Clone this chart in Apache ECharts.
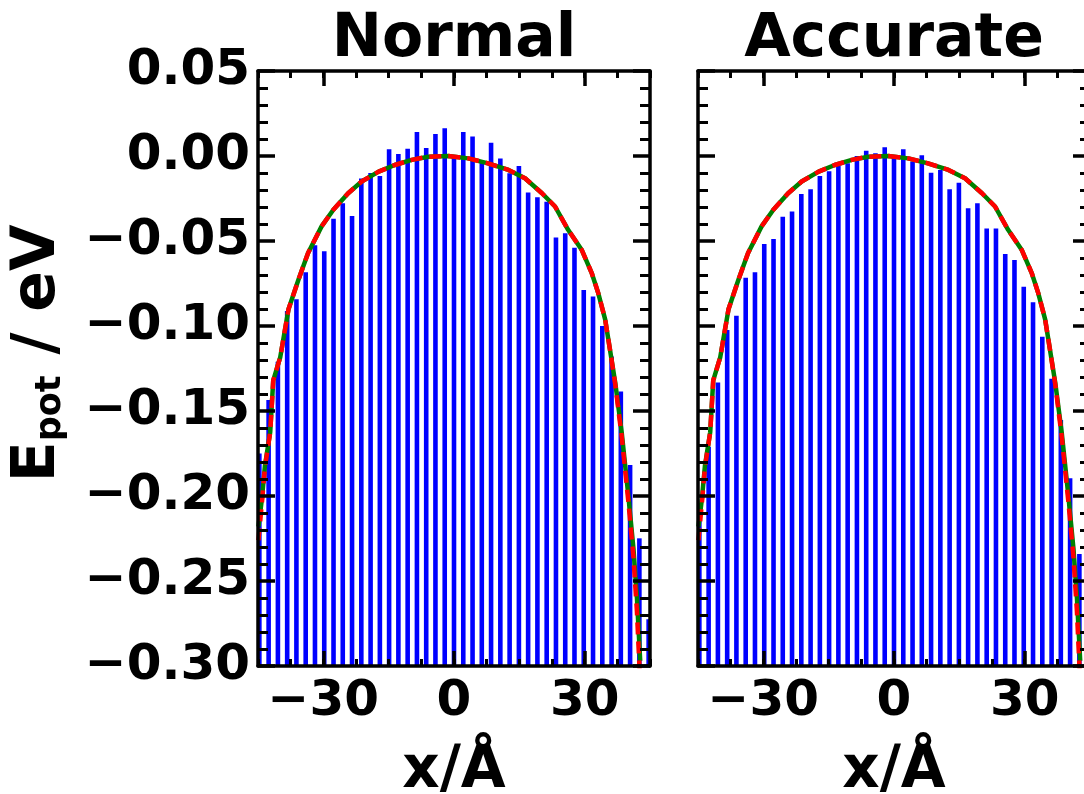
<!DOCTYPE html>
<html>
<head>
<meta charset="utf-8">
<script src="https://cdn.jsdelivr.net/npm/echarts@6/dist/echarts.min.js"></script>
<style>
  html, body { margin: 0; padding: 0; background: #ffffff; }
  #chart { width: 1084px; height: 794px; }
</style>
</head>
<body>
<div id="chart"></div>
<script>
// Atom positions along the chain (Å)
const atomX = [-44.69, -42.56, -40.43, -38.30, -36.18, -34.05, -31.92, -29.79, -27.66, -25.54,
  -23.41, -21.28, -19.15, -17.02, -14.90, -12.77, -10.64, -8.51, -6.38, -4.26, -2.13, 0.00,
  2.13, 4.26, 6.38, 8.51, 10.64, 12.77, 14.90, 17.02, 19.15, 21.28, 23.41, 25.54, 27.66,
  29.79, 31.92, 34.05, 36.18, 38.30, 40.43, 42.56, 44.69];

// Per-atom potential energy (eV), "Normal" precision
const normalEpot = [-0.1750, -0.1435, -0.1210, -0.0912, -0.0843, -0.0684, -0.0525, -0.0561,
  -0.0369, -0.0278, -0.0353, -0.0133, -0.0100, -0.0118, 0.0039, 0.0012, 0.0043, 0.0141,
  0.0047, 0.0129, 0.0163, -0.0005, 0.0141, 0.0114, -0.0024, 0.0078, -0.0014, -0.0102,
  -0.0059, -0.0214, -0.0243, -0.0269, -0.0480, -0.0455, -0.0540, -0.0788, -0.0827,
  -0.1000, -0.1180, -0.1386, -0.1818, -0.2249, -0.2725];

// Per-atom potential energy (eV), "Accurate" precision
const accurateEpot = [-0.2050, -0.1710, -0.1333, -0.1024, -0.0939, -0.0716, -0.0684, -0.0518,
  -0.0488, -0.0357, -0.0327, -0.0224, -0.0196, -0.0118, -0.0090, -0.0059, -0.0043, 0.0000,
  0.0031, 0.0016, 0.0051, 0.0006, 0.0039, -0.0033, 0.0004, -0.0098, -0.0082, -0.0196,
  -0.0157, -0.0308, -0.0278, -0.0427, -0.0427, -0.0576, -0.0612, -0.0769, -0.0861,
  -0.1063, -0.1310, -0.1553, -0.1896, -0.2341, -0.2800];

// Reference potential curve (green) and fitted curve (red, dashed)
const curveX = [-44.9, -44.1, -43.4, -42.2, -41.5, -39.9, -38.0, -35.7, -33.5, -30.4, -27.7,
  -24.3, -21.2, -17.3, -13.6, -9.7, -5.9, -1.3, 3.3, 7.8, 12.5, 16.3, 20.2, 23.2, 26.2,
  29.3, 31.6, 33.1, 34.7, 35.8, 37.0, 38.5, 40.1, 41.2, 42.0, 42.75];
const referenceEpot = [-0.2180, -0.2016, -0.1820, -0.1625, -0.1320, -0.1185, -0.0902, -0.0727,
  -0.0570, -0.0414, -0.0316, -0.0219, -0.0150, -0.0092, -0.0053, -0.0023, -0.0004, 0.0000,
  -0.0014, -0.0043, -0.0082, -0.0131, -0.0219, -0.0297, -0.0434, -0.0551, -0.0687,
  -0.0805, -0.0961, -0.1137, -0.1330, -0.1625, -0.2016, -0.2309, -0.2600, -0.2970];
const fitEpot = [-0.2260, -0.2040, -0.1830, -0.1625, -0.1320, -0.1185, -0.0902, -0.0727,
  -0.0570, -0.0414, -0.0316, -0.0219, -0.0150, -0.0092, -0.0053, -0.0023, -0.0004, 0.0000,
  -0.0014, -0.0043, -0.0082, -0.0131, -0.0219, -0.0297, -0.0434, -0.0551, -0.0687,
  -0.0805, -0.0961, -0.1137, -0.1340, -0.1650, -0.2050, -0.2360, -0.2680, -0.3100];

// Axis ranges and tick labels
const X_MIN = -45, X_MAX = 45, X_MINOR_STEP = 7.5;
const Y_MIN = -0.30, Y_MAX = 0.05, Y_STEP = 0.05;
const xTickValues = [-30, 0, 30];
const yTickValues = [-0.30, -0.25, -0.20, -0.15, -0.10, -0.05, 0.00, 0.05];
const panelTitles = ['Normal', 'Accurate'];
const panelEpot = [normalEpot, accurateEpot];

const FONT = 'DejaVu Sans';
const minus = s => s.replace('-', '\u2212');
const fmtX = v => minus(String(Math.round(v)));
const fmtY = v => minus((Math.abs(v) < 1e-9 ? 0 : v).toFixed(2));

const gridBoxes = [
  { left: 258, top: 71, width: 392, height: 595 },
  { left: 698, top: 71, width: 392, height: 595 }
];

const black = '#000000';
const xAxes = [], yAxes = [], series = [];

gridBoxes.forEach((g, gi) => {
  const base = { gridIndex: gi, type: 'value', min: X_MIN, max: X_MAX, interval: X_MINOR_STEP,
    splitLine: { show: false }, z: 10 };
  // bottom: spine, long ticks, labels, name
  xAxes.push(Object.assign({}, base, {
    position: 'bottom',
    axisLine: { show: true, onZero: false, lineStyle: { color: black, width: 3.5 } },
    axisTick: { show: true, inside: true, length: 15, customValues: xTickValues,
      lineStyle: { color: black, width: 3.5 } },
    axisLabel: { show: true, customValues: xTickValues, formatter: fmtX, margin: 11,
      color: black, fontFamily: FONT, fontWeight: 'bold', fontSize: 50 },
    name: 'x/Å', nameLocation: 'middle', nameGap: 77,
    nameTextStyle: { color: black, fontFamily: FONT, fontWeight: 'bold', fontSize: 58 }
  }));
  // bottom: short ticks
  xAxes.push(Object.assign({}, base, {
    position: 'bottom',
    axisLine: { show: false, onZero: false },
    axisTick: { show: true, inside: true, length: 7, lineStyle: { color: black, width: 3 } },
    axisLabel: { show: false }
  }));
  // top: spine, long ticks, panel title
  xAxes.push(Object.assign({}, base, {
    position: 'top',
    axisLine: { show: true, onZero: false, lineStyle: { color: black, width: 3.5 } },
    axisTick: { show: true, inside: true, length: 15, customValues: xTickValues,
      lineStyle: { color: black, width: 3.5 } },
    axisLabel: { show: false },
    name: panelTitles[gi], nameLocation: 'middle', nameGap: 1,
    nameTextStyle: { color: black, fontFamily: FONT, fontWeight: 'bold', fontSize: 60 }
  }));
  // top: short ticks
  xAxes.push(Object.assign({}, base, {
    position: 'top',
    axisLine: { show: false, onZero: false },
    axisTick: { show: true, inside: true, length: 7, lineStyle: { color: black, width: 3 } },
    axisLabel: { show: false }
  }));

  const yBase = { gridIndex: gi, type: 'value', min: Y_MIN, max: Y_MAX, interval: Y_STEP,
    splitLine: { show: false }, minorSplitLine: { show: false }, z: 10,
    axisLine: { show: true, onZero: false, lineStyle: { color: black, width: 3.5 } },
    axisTick: { show: true, inside: true, length: 17, lineStyle: { color: black, width: 3.5 } },
    minorTick: { show: true, splitNumber: 5, length: 10, lineStyle: { color: black, width: 3 } } };
  yAxes.push(Object.assign({}, yBase, {
    position: 'left',
    axisLabel: { show: gi === 0, customValues: yTickValues, formatter: fmtY, margin: 8,
      padding: [0, 0, 6, 0],
      color: black, fontFamily: FONT, fontWeight: 'bold', fontSize: 50 },
    name: gi === 0 ? '{m|E}{s|pot}{m| / eV}' : '',
    nameLocation: 'middle', nameGap: 190, nameRotate: 90,
    nameTextStyle: {
      color: black, fontFamily: FONT, fontWeight: 'bold', fontSize: 60,
      padding: [0, 0, 0, 30],
      rich: {
        m: { fontFamily: FONT, fontWeight: 'bold', fontSize: 60, lineHeight: 60, color: black },
        s: { fontFamily: FONT, fontWeight: 'bold', fontSize: 35, lineHeight: 35, color: black,
             padding: [26, 0, 0, 0] }
      }
    }
  }));
  yAxes.push(Object.assign({}, yBase, {
    position: 'right',
    axisLabel: { show: false }
  }));

  const xi = gi * 4, yi = gi * 2;
  // vertical sticks, one per atom, from the bottom of the axis up to its energy
  series.push({
    type: 'custom', xAxisIndex: xi, yAxisIndex: yi, clip: true, z: 2,
    data: atomX.map((x, i) => [x, panelEpot[gi][i]]),
    renderItem: (params, api) => {
      const top = api.coord([api.value(0), api.value(1)]);
      const bottom = api.coord([api.value(0), Y_MIN]);
      return {
        type: 'line',
        shape: { x1: top[0], y1: bottom[1], x2: top[0], y2: top[1] },
        style: { stroke: '#0000ff', lineWidth: 4.6, lineCap: 'butt' }
      };
    }
  });
  series.push({
    type: 'line', xAxisIndex: xi, yAxisIndex: yi, z: 3, clip: true,
    showSymbol: false, symbol: 'none', silent: true,
    data: curveX.map((x, i) => [x, referenceEpot[i]]),
    lineStyle: { color: '#008000', width: 4.5 }
  });
  series.push({
    type: 'line', xAxisIndex: xi, yAxisIndex: yi, z: 4, clip: true,
    showSymbol: false, symbol: 'none', silent: true,
    data: curveX.map((x, i) => [x, fitEpot[i]]),
    lineStyle: { color: '#ff0000', width: 4.5, type: [12, 7] }
  });
});

const chart = echarts.init(document.getElementById('chart'), null, { renderer: 'canvas' });
chart.setOption({
  animation: false,
  backgroundColor: '#ffffff',
  grid: gridBoxes.map(g => Object.assign({ show: false, containLabel: false, outerBoundsMode: 'none' }, g)),
  xAxis: xAxes,
  yAxis: yAxes,
  series: series
});
</script>
</body>
</html>
